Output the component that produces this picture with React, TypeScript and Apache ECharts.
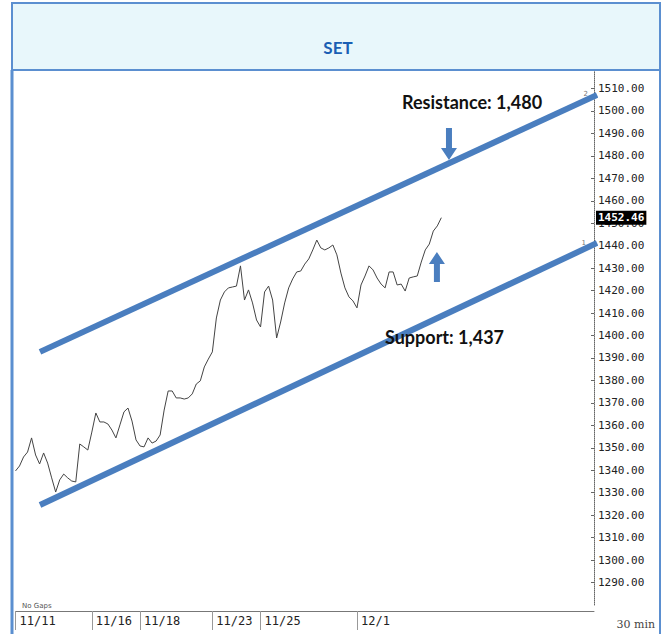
import { useEffect, useRef } from 'react';
import * as echarts from 'echarts';

// Trading days and number of 30-min points drawn for each
const days: [string, number][] = [
  ['11/11', 7], ['11/12', 6], ['11/13', 6], ['11/16', 6], ['11/17', 6], ['11/18', 6],
  ['11/19', 6], ['11/20', 6], ['11/23', 6], ['11/24', 6], ['11/25', 6], ['11/26', 6],
  ['11/27', 6], ['11/30', 6], ['12/1', 6], ['12/2', 6], ['12/3', 6], ['12/4', 6],
  ['12/8', 6], ['12/9', 6], ['12/11', 6], ['12/14', 6], ['12/15', 6], ['12/16', 6],
];
const labelledDays = ['11/11', '11/16', '11/18', '11/23', '11/25', '12/1'];

const prices = [
  1339.7, 1341.9, 1345.9, 1348.1, 1354.4, 1346.8, 1342.8, 1347.7, 1343.2, 1336.6,
  1330.3, 1335.7, 1338.3, 1336.6, 1335.2, 1334.8, 1351.7, 1350.4, 1349.0, 1357.0,
  1365.5, 1361.5, 1361.5, 1360.6, 1357.9, 1354.4, 1360.2, 1366.0, 1367.7, 1361.9,
  1353.5, 1350.8, 1350.4, 1354.4, 1352.1, 1353.0, 1355.7, 1366.8, 1375.3, 1375.3,
  1372.2, 1372.2, 1371.7, 1372.2, 1374.0, 1378.4, 1379.8, 1386.0, 1389.5, 1392.7,
  1407.8, 1415.8, 1419.4, 1421.2, 1421.6, 1422.0, 1431.0, 1415.8, 1420.3, 1414.5,
  1406.9, 1403.8, 1419.4, 1422.0, 1415.8, 1398.9, 1406.0, 1414.5, 1421.2, 1425.2,
  1428.3, 1428.7, 1431.8, 1434.1, 1438.1, 1442.5, 1439.0, 1438.1, 1439.0, 1440.3,
  1435.9, 1427.8, 1421.2, 1417.2, 1415.4, 1412.3, 1422.5, 1426.5, 1431.0, 1429.2,
  1425.6, 1422.9, 1421.2, 1428.3, 1428.3, 1422.5, 1422.9, 1419.8, 1425.6, 1426.1,
  1426.5, 1432.7, 1438.1, 1440.7, 1446.5, 1448.8, 1452.46,
];

const yMin = 1280;
const yMax = 1520;
const yInterval = 10;
const lastPrice = 1452.46;

// Channel lines: [bar index, price]
const resistanceLine = [[6.1, 1392.7], [144.76, 1507.1]];
const supportLine = [[6.1, 1324.5], [144.76, 1441.2]];
const resistanceLabel = 'Resistance: 1,480';
const supportLabel = 'Support: 1,437';
const downArrowAt = [107.9, 1485.3];
const upArrowAt = [104.9, 1430.5];

const BLUE = '#4a7ebf';

export default function App() {
  const ref = useRef<HTMLDivElement>(null);

  useEffect(() => {
    if (!ref.current) return;
    const chart = echarts.init(ref.current, undefined, { renderer: 'svg' });

    const categories: string[] = [];
    const firstIdx = new Set<number>();
    days.forEach(([d, n]) => {
      if (labelledDays.includes(d)) firstIdx.add(categories.length);
      for (let k = 0; k < n; k++) categories.push(`${d} ${k}`);
    });
    const nCat = categories.length;

    const option: any = {
      animation: false,
      backgroundColor: '#fff',
      grid: { left: 15.5, right: 69, top: 66, bottom: 29 },
      xAxis: [
        {
          type: 'category',
          data: categories,
          boundaryGap: false,
          offset: 6,
          axisLine: { onZero: false, lineStyle: { color: '#777', width: 1 } },
          axisTick: {
            show: true,
            length: 19,
            interval: (i: number) => firstIdx.has(i),
            lineStyle: { color: '#999' },
          },
          axisLabel: {
            interval: (i: number) => firstIdx.has(i),
            formatter: (v: string) => v.split(' ')[0],
            align: 'left',
            padding: [0, 0, 0, 4],
            margin: 4,
            fontFamily: 'DejaVu Sans Mono',
            fontSize: 12,
            color: '#222',
          },
          splitLine: { show: false },
        },
        { type: 'value', min: 0, max: nCat - 1, show: false },
      ],
      yAxis: {
        type: 'value',
        position: 'right',
        min: yMin,
        max: yMax,
        interval: yInterval,
        axisLine: { show: true, onZero: false, lineStyle: { color: '#666', type: 'dotted' } },
        axisTick: { show: true, inside: true, length: 3, lineStyle: { color: '#666' } },
        axisLabel: {
          showMinLabel: false,
          showMaxLabel: false,
          margin: 4,
          formatter: (v: number) => v.toFixed(2),
          fontFamily: 'DejaVu Sans Mono',
          fontSize: 11,
          color: '#222',
        },
        splitLine: { show: false },
      },
      series: [
        {
          type: 'line',
          data: prices,
          symbol: 'none',
          lineStyle: { color: '#444', width: 1 },
          z: 3,
          markLine: {
            silent: true,
            symbol: ['none', 'none'],
            lineStyle: { color: 'rgba(0,0,0,0)', width: 0 },
            data: [{ yAxis: lastPrice }],
            label: {
              show: true,
              position: 'end',
              distance: 2,
              formatter: lastPrice.toFixed(2),
              backgroundColor: '#000',
              color: '#fff',
              fontFamily: 'DejaVu Sans Mono',
              fontSize: 11,
              fontWeight: 'bold',
              padding: [2, 2, 1, 2],
            },
          },
        },
        {
          type: 'line',
          xAxisIndex: 1,
          data: resistanceLine,
          symbol: 'none',
          clip: false,
          lineStyle: { color: BLUE, width: 6 },
          z: 4,
          markPoint: {
            silent: true,
            data: [
              {
                coord: downArrowAt,
                symbol: 'path://M5,0 L11,0 L11,20 L16,20 L8,32 L0,20 L5,20 Z',
                symbolSize: [16, 32],
                itemStyle: { color: BLUE },
                label: { show: false },
              },
            ],
          },
        },
        {
          type: 'line',
          xAxisIndex: 1,
          data: supportLine,
          symbol: 'none',
          clip: false,
          lineStyle: { color: BLUE, width: 6 },
          z: 4,
          markPoint: {
            silent: true,
            data: [
              {
                coord: upArrowAt,
                symbol: 'path://M8,0 L16,12 L11,12 L11,30 L5,30 L5,12 L0,12 Z',
                symbolSize: [16, 30],
                itemStyle: { color: BLUE },
                label: { show: false },
              },
            ],
          },
        },
      ],
      graphic: [
        {
          type: 'rect',
          z: 100,
          shape: { x: 12, y: 3, width: 648, height: 67 },
          style: { fill: '#e8f7fb', stroke: '#5b8fd0', lineWidth: 2 },
        },
        {
          type: 'text',
          z: 101,
          x: 338,
          y: 47,
          style: {
            text: 'SET',
            fill: '#1a5fb4',
            font: 'bold 17px Lato',
            align: 'center',
            verticalAlign: 'middle',
          },
        },
        { type: 'line', z: 100, shape: { x1: 12, y1: 70, x2: 12, y2: 634 }, style: { stroke: '#5b8fd0', lineWidth: 3 } },
        { type: 'line', z: 100, shape: { x1: 660, y1: 70, x2: 660, y2: 634 }, style: { stroke: '#5b8fd0', lineWidth: 2 } },
        {
          type: 'text',
          z: 50,
          x: 402,
          y: 102,
          style: { text: resistanceLabel, fill: '#111', font: 'bold 18px Lato', verticalAlign: 'middle' },
        },
        {
          type: 'text',
          z: 50,
          x: 385,
          y: 337,
          style: { text: supportLabel, fill: '#111', font: 'bold 18px Lato', verticalAlign: 'middle' },
        },
        {
          type: 'text',
          z: 50,
          x: 22,
          y: 606,
          style: { text: 'No Gaps', fill: '#555', font: '7px "DejaVu Sans"', verticalAlign: 'middle' },
        },
        {
          type: 'text',
          z: 50,
          x: 655,
          y: 624,
          style: { text: '30 min', fill: '#444', font: '11px "DejaVu Serif"', align: 'right', verticalAlign: 'middle' },
        },
        {
          type: 'text',
          z: 50,
          x: 588,
          y: 94,
          style: { text: '2', fill: '#777', font: '7px "DejaVu Sans"', align: 'right', verticalAlign: 'middle' },
        },
        {
          type: 'text',
          z: 50,
          x: 586,
          y: 243,
          style: { text: '1', fill: '#777', font: '7px "DejaVu Sans"', align: 'right', verticalAlign: 'middle' },
        },
      ],
    };

    chart.setOption(option);
    return () => chart.dispose();
  }, []);

  return (
    <div
      ref={ref}
      style={{ position: 'absolute', left: 0, top: 0, width: 663, height: 634, background: '#fff' }}
    />
  );
}
